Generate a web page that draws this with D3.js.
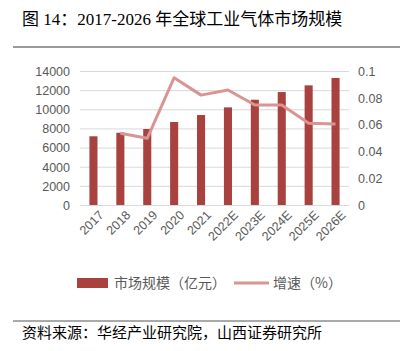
<!DOCTYPE html>
<html>
<head>
<meta charset="utf-8">
<script src="https://cdn.jsdelivr.net/npm/d3@7"></script>
<style>
  body { margin: 0; background: #fff; }
  svg text { font-family: "Liberation Sans", "Noto Sans CJK SC", sans-serif; }
</style>
</head>
<body>
<div id="chart"></div>
<script>
// data
var years = ['2017', '2018', '2019', '2020', '2021', '2022E', '2023E', '2024E', '2025E', '2026E'];
var marketSize = [7180, 7550, 7940, 8670, 9400, 10200, 11000, 11800, 12500, 13270];
var growth = [null, 0.0535, 0.0498, 0.095, 0.082, 0.0858, 0.0746, 0.0746, 0.061, 0.0604];
var leftTicks = [0, 2000, 4000, 6000, 8000, 10000, 12000, 14000];
var rightTicks = [0, 0.02, 0.04, 0.06, 0.08, 0.1];

var W = 408, H = 351;
var plot = {left: 80, right: 349, top: 71, bottom: 205};

var svg = d3.select('#chart').append('svg')
    .attr('width', W)
    .attr('height', H);

// title + rules
svg.append('text')
    .attr('x', 22).attr('y', 25)
    .attr('font-size', '17px')
    .attr('fill', '#000')
    .style('font-family', '"Liberation Serif", "Noto Sans CJK SC", serif')
    .text('图 14：2017-2026 年全球工业气体市场规模');

svg.append('line')
    .attr('x1', 13).attr('x2', 400).attr('y1', 47).attr('y2', 47)
    .attr('stroke', '#9a9a9a').attr('stroke-width', 2);

svg.append('line')
    .attr('x1', 13).attr('x2', 400).attr('y1', 321).attr('y2', 321)
    .attr('stroke', '#555').attr('stroke-width', 1);

svg.append('text')
    .attr('x', 22).attr('y', 338)
    .attr('font-size', '15px')
    .attr('fill', '#000')
    .style('font-family', '"Noto Sans CJK SC", sans-serif')
    .text('资料来源：华经产业研究院，山西证券研究所');

var x = d3.scaleBand()
    .domain(years)
    .range([plot.left, plot.right])
    .paddingInner(0.7)
    .paddingOuter(0.35);

var y = d3.scaleLinear().domain([0, 14000]).range([plot.bottom, plot.top]);
var y2 = d3.scaleLinear().domain([0, 0.1]).range([plot.bottom, plot.top]);

// grid
svg.append('g')
    .selectAll('line')
    .data(leftTicks)
    .enter()
    .append('line')
    .attr('x1', plot.left).attr('x2', plot.right)
    .attr('y1', function(d) { return y(d) + 0.5; })
    .attr('y2', function(d) { return y(d) + 0.5; })
    .attr('stroke', '#d9d9d9')
    .attr('stroke-width', 1);

// left axis
var yAxis = d3.axisLeft(y).tickValues(leftTicks).tickSize(0).tickPadding(10)
    .tickFormat(d3.format('d'));
var gy = svg.append('g')
    .attr('transform', 'translate(' + plot.left + ',0)')
    .call(yAxis);
gy.select('.domain').remove();
gy.selectAll('text').attr('font-size', '12.5px').attr('fill', '#595959')
    .attr('dy', '0.35em');

// right axis
var y2Axis = d3.axisRight(y2).tickValues(rightTicks).tickSize(0).tickPadding(9)
    .tickFormat(function(d) { return d === 0 ? '0' : String(+d.toFixed(2)); });
var gy2 = svg.append('g')
    .attr('transform', 'translate(' + plot.right + ',0)')
    .call(y2Axis);
gy2.select('.domain').remove();
gy2.selectAll('text').attr('font-size', '12.5px').attr('fill', '#595959')
    .attr('dy', '0.35em');

// bars
svg.append('g')
    .selectAll('rect')
    .data(marketSize)
    .enter()
    .append('rect')
    .attr('x', function(d, i) { return x(years[i]); })
    .attr('width', x.bandwidth())
    .attr('y', function(d) { return y(d); })
    .attr('height', function(d) { return plot.bottom - y(d); })
    .attr('fill', '#a9413f');

// growth line
var line = d3.line()
    .defined(function(d) { return d !== null; })
    .x(function(d, i) { return x(years[i]) + x.bandwidth() / 2; })
    .y(function(d) { return y2(d); });

svg.append('path')
    .datum(growth)
    .attr('d', line)
    .attr('fill', 'none')
    .attr('stroke', '#d99593')
    .attr('stroke-width', 3)
    .attr('stroke-linejoin', 'round');

// x axis
var xAxis = d3.axisBottom(x).tickSize(0).tickPadding(6);
var gx = svg.append('g')
    .attr('transform', 'translate(0,' + plot.bottom + ')')
    .call(xAxis);
gx.select('.domain').attr('stroke', '#d9d9d9').attr('d', 'M' + plot.left + ',0.5H' + plot.right);
gx.selectAll('text')
    .attr('font-size', '12.5px')
    .attr('fill', '#595959')
    .attr('text-anchor', 'end')
    .attr('dy', '0.3em')
    .attr('transform', 'translate(4,4) rotate(-45)');

// legend
var legend = svg.append('g').attr('transform', 'translate(0,283)');
legend.append('rect')
    .attr('x', 77).attr('y', -5).attr('width', 31).attr('height', 10)
    .attr('fill', '#a9413f');
legend.append('text')
    .attr('x', 114).attr('y', 0).attr('dy', '0.35em')
    .attr('font-size', '14px').attr('fill', '#595959')
    .style('font-family', '"Noto Sans CJK SC", sans-serif')
    .text('市场规模（亿元）');
legend.append('line')
    .attr('x1', 234).attr('x2', 269).attr('y1', 0).attr('y2', 0)
    .attr('stroke', '#d99593').attr('stroke-width', 3);
legend.append('text')
    .attr('x', 273).attr('y', 0).attr('dy', '0.35em')
    .attr('font-size', '14px').attr('fill', '#595959')
    .style('font-family', '"Noto Sans CJK SC", sans-serif')
    .text('增速（%）');
</script>
</body>
</html>
